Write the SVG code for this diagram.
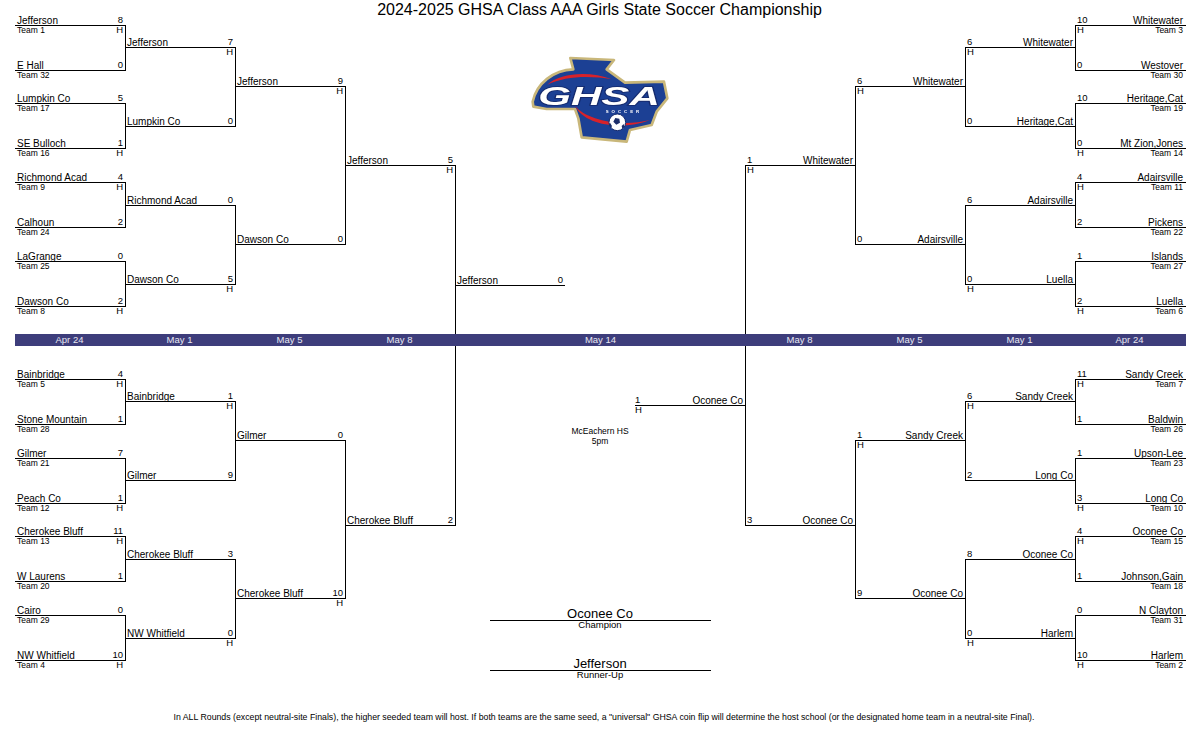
<svg xmlns="http://www.w3.org/2000/svg" width="1200" height="750" viewBox="0 0 1200 750">
<style>
text{font-family:"Liberation Sans",Arial,sans-serif;fill:#000}
.n{font-size:10px;transform:translateY(1px)}
.s{font-size:9.500px}
.t{font-size:8.500px}
.e{text-anchor:end}
.c{text-anchor:middle}
.d{font-size:9.500px;fill:#e8e8f2;text-anchor:middle}
#connectors path{fill:none;stroke:#000;stroke-width:1;shape-rendering:crispEdges}
</style>
<defs><filter id="soft" x="-5%" y="-5%" width="110%" height="110%"><feGaussianBlur stdDeviation="1.200"/></filter></defs>
<rect width="1200" height="750" fill="#fff"/>
<text id="title" x="599.500" y="15" class="c" font-size="16">2024-2025 GHSA Class AAA Girls State Soccer Championship</text>
<g id="connectors">
<path d="M15,25.500H125.500V70.500H15M15,103.500H125.500V148.500H15M15,182.500H125.500V227.500H15M15,261.500H125.500V306.500H15M15,379.500H125.500V424.500H15M15,458.500H125.500V503.500H15M15,536.500H125.500V581.500H15M15,615.500H125.500V660.500H15"/>
<path d="M125.500,47.500H235.500V126.500H125.500M125.500,205.500H235.500V284.500H125.500M125.500,401.500H235.500V480.500H125.500M125.500,559.500H235.500V638.500H125.500"/>
<path d="M235.500,86.500H345.500V244.500H235.500M235.500,440.500H345.500V598.500H235.500"/>
<path d="M345.500,165.500H455.500V525.500H345.500M455.500,285.500H565"/>
<path d="M1186,25.500H1075.500V70.500H1186M1186,103.500H1075.500V148.500H1186M1186,182.500H1075.500V227.500H1186M1186,261.500H1075.500V306.500H1186M1186,379.500H1075.500V424.500H1186M1186,458.500H1075.500V503.500H1186M1186,536.500H1075.500V581.500H1186M1186,615.500H1075.500V660.500H1186"/>
<path d="M1075.500,47.500H965.500V126.500H1075.500M1075.500,205.500H965.500V284.500H1075.500M1075.500,401.500H965.500V480.500H1075.500M1075.500,559.500H965.500V638.500H1075.500"/>
<path d="M965.500,86.500H855.500V244.500H965.500M965.500,440.500H855.500V598.500H965.500"/>
<path d="M855.500,165.500H745.500V525.500H855.500M745.500,405.500H635"/>
<path d="M490,620.500H711M490,670.500H711"/>
</g>
<g id="dates">
<rect x="15" y="334" width="1171" height="12" fill="#3d3d7b"/>
<text class="d" x="69.500" y="343">Apr 24</text><text class="d" x="179.500" y="343">May 1</text><text class="d" x="289.500" y="343">May 5</text><text class="d" x="399.500" y="343">May 8</text><text class="d" x="600.500" y="343">May 14</text><text class="d" x="799.500" y="343">May 8</text><text class="d" x="909.500" y="343">May 5</text><text class="d" x="1019.500" y="343">May 1</text><text class="d" x="1129.500" y="343">Apr 24</text>
</g>
<g id="logo" transform="translate(510 40) scale(.3333)">
<g filter="url(#soft)">
<path d="M181,54L312,60L290,88L345,128L462,125L472,175L440,215L425,255L360,270L350,305L215,292L205,235L195,207L110,207L70,200L68,185C80,130 130,90 190,88Z" fill="#1c3f94" stroke="#c9b77a" stroke-width="8" stroke-linejoin="round"/>
<path d="M112,134C150,98 240,92 305,118C240,106 165,108 112,134Z" fill="#d8232a"/>
<path d="M195,198C230,240 330,262 420,240C340,272 225,258 195,198Z" fill="#d8232a"/>
<circle cx="322" cy="247" r="25" fill="#fff" stroke="#14296b" stroke-width="3"/>
<path d="M316,234l12,2l2,12l-11,6l-9,-9ZM300,248l6,10l-3,6l-6,-8ZM335,258l6,-6l2,8l-6,6Z" fill="#1c2f6b"/>
<text x="267" y="195" class="c" font-size="78" font-weight="bold" font-style="italic" textLength="365" lengthAdjust="spacingAndGlyphs" style="fill:#fff;stroke:#14296b;stroke-width:5;paint-order:stroke">GHSA</text>
<text x="342" y="218" class="c" font-size="13" font-weight="bold" letter-spacing="9" style="fill:#fff">SOCCER</text>
</g>
</g>
<g id="l1-1"><text class="n" x="17" y="23">Jefferson</text><text class="s e" x="123" y="23">8</text><text class="s e" x="123" y="33">H</text><text class="t" x="17" y="33">Team 1</text></g>
<g id="l1-2"><text class="n" x="17" y="68">E Hall</text><text class="s e" x="123" y="68">0</text><text class="t" x="17" y="78">Team 32</text></g>
<g id="l1-3"><text class="n" x="17" y="101">Lumpkin Co</text><text class="s e" x="123" y="101">5</text><text class="t" x="17" y="111">Team 17</text></g>
<g id="l1-4"><text class="n" x="17" y="146">SE Bulloch</text><text class="s e" x="123" y="146">1</text><text class="s e" x="123" y="156">H</text><text class="t" x="17" y="156">Team 16</text></g>
<g id="l1-5"><text class="n" x="17" y="180">Richmond Acad</text><text class="s e" x="123" y="180">4</text><text class="s e" x="123" y="190">H</text><text class="t" x="17" y="190">Team 9</text></g>
<g id="l1-6"><text class="n" x="17" y="225">Calhoun</text><text class="s e" x="123" y="225">2</text><text class="t" x="17" y="235">Team 24</text></g>
<g id="l1-7"><text class="n" x="17" y="259">LaGrange</text><text class="s e" x="123" y="259">0</text><text class="t" x="17" y="269">Team 25</text></g>
<g id="l1-8"><text class="n" x="17" y="304">Dawson Co</text><text class="s e" x="123" y="304">2</text><text class="s e" x="123" y="314">H</text><text class="t" x="17" y="314">Team 8</text></g>
<g id="l1-9"><text class="n" x="17" y="377">Bainbridge</text><text class="s e" x="123" y="377">4</text><text class="s e" x="123" y="387">H</text><text class="t" x="17" y="387">Team 5</text></g>
<g id="l1-10"><text class="n" x="17" y="422">Stone Mountain</text><text class="s e" x="123" y="422">1</text><text class="t" x="17" y="432">Team 28</text></g>
<g id="l1-11"><text class="n" x="17" y="456">Gilmer</text><text class="s e" x="123" y="456">7</text><text class="t" x="17" y="466">Team 21</text></g>
<g id="l1-12"><text class="n" x="17" y="501">Peach Co</text><text class="s e" x="123" y="501">1</text><text class="s e" x="123" y="511">H</text><text class="t" x="17" y="511">Team 12</text></g>
<g id="l1-13"><text class="n" x="17" y="534">Cherokee Bluff</text><text class="s e" x="123" y="534">11</text><text class="s e" x="123" y="544">H</text><text class="t" x="17" y="544">Team 13</text></g>
<g id="l1-14"><text class="n" x="17" y="579">W Laurens</text><text class="s e" x="123" y="579">1</text><text class="t" x="17" y="589">Team 20</text></g>
<g id="l1-15"><text class="n" x="17" y="613">Cairo</text><text class="s e" x="123" y="613">0</text><text class="t" x="17" y="623">Team 29</text></g>
<g id="l1-16"><text class="n" x="17" y="658">NW Whitfield</text><text class="s e" x="123" y="658">10</text><text class="s e" x="123" y="668">H</text><text class="t" x="17" y="668">Team 4</text></g>
<g id="l2-1"><text class="n" x="127" y="45">Jefferson</text><text class="s e" x="233" y="45">7</text><text class="s e" x="233" y="55">H</text></g>
<g id="l2-2"><text class="n" x="127" y="124">Lumpkin Co</text><text class="s e" x="233" y="124">0</text></g>
<g id="l2-3"><text class="n" x="127" y="203">Richmond Acad</text><text class="s e" x="233" y="203">0</text></g>
<g id="l2-4"><text class="n" x="127" y="282">Dawson Co</text><text class="s e" x="233" y="282">5</text><text class="s e" x="233" y="292">H</text></g>
<g id="l2-5"><text class="n" x="127" y="399">Bainbridge</text><text class="s e" x="233" y="399">1</text><text class="s e" x="233" y="409">H</text></g>
<g id="l2-6"><text class="n" x="127" y="478">Gilmer</text><text class="s e" x="233" y="478">9</text></g>
<g id="l2-7"><text class="n" x="127" y="557">Cherokee Bluff</text><text class="s e" x="233" y="557">3</text></g>
<g id="l2-8"><text class="n" x="127" y="636">NW Whitfield</text><text class="s e" x="233" y="636">0</text><text class="s e" x="233" y="646">H</text></g>
<g id="l3-1"><text class="n" x="237" y="84">Jefferson</text><text class="s e" x="343" y="84">9</text><text class="s e" x="343" y="94">H</text></g>
<g id="l3-2"><text class="n" x="237" y="242">Dawson Co</text><text class="s e" x="343" y="242">0</text></g>
<g id="l3-3"><text class="n" x="237" y="438">Gilmer</text><text class="s e" x="343" y="438">0</text></g>
<g id="l3-4"><text class="n" x="237" y="596">Cherokee Bluff</text><text class="s e" x="343" y="596">10</text><text class="s e" x="343" y="606">H</text></g>
<g id="l4-1"><text class="n" x="347" y="163">Jefferson</text><text class="s e" x="453" y="163">5</text><text class="s e" x="453" y="173">H</text></g>
<g id="l4-2"><text class="n" x="347" y="523">Cherokee Bluff</text><text class="s e" x="453" y="523">2</text></g>
<g id="lf"><text class="n" x="457" y="283">Jefferson</text><text class="s e" x="563" y="283">0</text></g>
<g id="r1-1"><text class="n e" x="1183" y="23">Whitewater</text><text class="s" x="1077" y="23">10</text><text class="s" x="1077" y="33">H</text><text class="t e" x="1183" y="33">Team 3</text></g>
<g id="r1-2"><text class="n e" x="1183" y="68">Westover</text><text class="s" x="1077" y="68">0</text><text class="t e" x="1183" y="78">Team 30</text></g>
<g id="r1-3"><text class="n e" x="1183" y="101">Heritage,Cat</text><text class="s" x="1077" y="101">10</text><text class="t e" x="1183" y="111">Team 19</text></g>
<g id="r1-4"><text class="n e" x="1183" y="146">Mt Zion,Jones</text><text class="s" x="1077" y="146">0</text><text class="s" x="1077" y="156">H</text><text class="t e" x="1183" y="156">Team 14</text></g>
<g id="r1-5"><text class="n e" x="1183" y="180">Adairsville</text><text class="s" x="1077" y="180">4</text><text class="s" x="1077" y="190">H</text><text class="t e" x="1183" y="190">Team 11</text></g>
<g id="r1-6"><text class="n e" x="1183" y="225">Pickens</text><text class="s" x="1077" y="225">2</text><text class="t e" x="1183" y="235">Team 22</text></g>
<g id="r1-7"><text class="n e" x="1183" y="259">Islands</text><text class="s" x="1077" y="259">1</text><text class="t e" x="1183" y="269">Team 27</text></g>
<g id="r1-8"><text class="n e" x="1183" y="304">Luella</text><text class="s" x="1077" y="304">2</text><text class="s" x="1077" y="314">H</text><text class="t e" x="1183" y="314">Team 6</text></g>
<g id="r1-9"><text class="n e" x="1183" y="377">Sandy Creek</text><text class="s" x="1077" y="377">11</text><text class="s" x="1077" y="387">H</text><text class="t e" x="1183" y="387">Team 7</text></g>
<g id="r1-10"><text class="n e" x="1183" y="422">Baldwin</text><text class="s" x="1077" y="422">1</text><text class="t e" x="1183" y="432">Team 26</text></g>
<g id="r1-11"><text class="n e" x="1183" y="456">Upson-Lee</text><text class="s" x="1077" y="456">1</text><text class="t e" x="1183" y="466">Team 23</text></g>
<g id="r1-12"><text class="n e" x="1183" y="501">Long Co</text><text class="s" x="1077" y="501">3</text><text class="s" x="1077" y="511">H</text><text class="t e" x="1183" y="511">Team 10</text></g>
<g id="r1-13"><text class="n e" x="1183" y="534">Oconee Co</text><text class="s" x="1077" y="534">4</text><text class="s" x="1077" y="544">H</text><text class="t e" x="1183" y="544">Team 15</text></g>
<g id="r1-14"><text class="n e" x="1183" y="579">Johnson,Gain</text><text class="s" x="1077" y="579">1</text><text class="t e" x="1183" y="589">Team 18</text></g>
<g id="r1-15"><text class="n e" x="1183" y="613">N Clayton</text><text class="s" x="1077" y="613">0</text><text class="t e" x="1183" y="623">Team 31</text></g>
<g id="r1-16"><text class="n e" x="1183" y="658">Harlem</text><text class="s" x="1077" y="658">10</text><text class="s" x="1077" y="668">H</text><text class="t e" x="1183" y="668">Team 2</text></g>
<g id="r2-1"><text class="n e" x="1073" y="45">Whitewater</text><text class="s" x="967" y="45">6</text><text class="s" x="967" y="55">H</text></g>
<g id="r2-2"><text class="n e" x="1073" y="124">Heritage,Cat</text><text class="s" x="967" y="124">0</text></g>
<g id="r2-3"><text class="n e" x="1073" y="203">Adairsville</text><text class="s" x="967" y="203">6</text></g>
<g id="r2-4"><text class="n e" x="1073" y="282">Luella</text><text class="s" x="967" y="282">0</text><text class="s" x="967" y="292">H</text></g>
<g id="r2-5"><text class="n e" x="1073" y="399">Sandy Creek</text><text class="s" x="967" y="399">6</text><text class="s" x="967" y="409">H</text></g>
<g id="r2-6"><text class="n e" x="1073" y="478">Long Co</text><text class="s" x="967" y="478">2</text></g>
<g id="r2-7"><text class="n e" x="1073" y="557">Oconee Co</text><text class="s" x="967" y="557">8</text></g>
<g id="r2-8"><text class="n e" x="1073" y="636">Harlem</text><text class="s" x="967" y="636">0</text><text class="s" x="967" y="646">H</text></g>
<g id="r3-1"><text class="n e" x="963" y="84">Whitewater</text><text class="s" x="857" y="84">6</text><text class="s" x="857" y="94">H</text></g>
<g id="r3-2"><text class="n e" x="963" y="242">Adairsville</text><text class="s" x="857" y="242">0</text></g>
<g id="r3-3"><text class="n e" x="963" y="438">Sandy Creek</text><text class="s" x="857" y="438">1</text><text class="s" x="857" y="448">H</text></g>
<g id="r3-4"><text class="n e" x="963" y="596">Oconee Co</text><text class="s" x="857" y="596">9</text></g>
<g id="r4-1"><text class="n e" x="853" y="163">Whitewater</text><text class="s" x="747" y="163">1</text><text class="s" x="747" y="173">H</text></g>
<g id="r4-2"><text class="n e" x="853" y="523">Oconee Co</text><text class="s" x="747" y="523">3</text></g>
<g id="rf"><text class="n e" x="743" y="403">Oconee Co</text><text class="s" x="635" y="403">1</text><text class="s" x="635" y="413">H</text></g>
<g id="venue"><text class="t c" x="600" y="434">McEachern HS</text><text class="t c" x="600" y="444">5pm</text></g>
<g id="champion"><text class="c" font-size="13" x="600" y="618">Oconee Co</text><text class="s c" x="600" y="628">Champion</text></g>
<g id="runnerup"><text class="c" font-size="13" x="600" y="668">Jefferson</text><text class="s c" x="600" y="678">Runner-Up</text></g>
<text id="note" class="c" font-size="8.760" x="604" y="720">In ALL Rounds (except neutral-site Finals), the higher seeded team will host. If both teams are the same seed, a "universal" GHSA coin flip will determine the host school (or the designated home team in a neutral-site Final).</text>
</svg>
